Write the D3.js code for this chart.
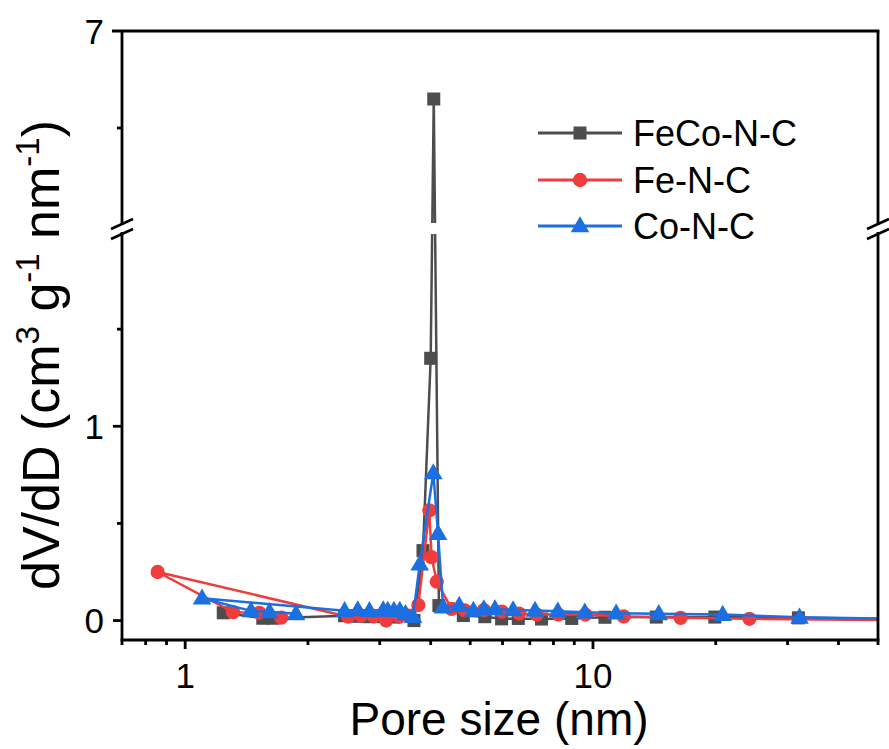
<!DOCTYPE html>
<html>
<head>
<meta charset="utf-8">
<script src="https://cdn.jsdelivr.net/npm/d3@7"></script>
<style>
  html, body { margin: 0; padding: 0; background: #fff; }
  svg { display: block; }
  text { font-family: "Liberation Sans", Arial, sans-serif; fill: #000; }
</style>
</head>
<body>
<svg id="chart" width="889" height="749"></svg>
<script>
// ---- data ----
const seriesNames = ["FeCo-N-C", "Fe-N-C", "Co-N-C"];

const fecoX = [1.24, 1.55, 1.64, 2.46, 2.65, 2.83, 3.06, 3.25, 3.64, 3.83, 4.00, 4.07, 4.19, 4.81, 5.43, 5.97, 6.56, 7.48, 8.87, 10.7, 14.3, 19.9, 31.9, 75];
const fecoY = [0.04, 0.012, 0.012, 0.025, 0.022, 0.02, 0.02, 0.018, 0.0, 0.36, 1.35, 6.30, 0.077, 0.026, 0.02, 0.009, 0.011, 0.008, 0.011, 0.017, 0.018, 0.018, 0.014, 0.004];

const feX = [1.72, 1.52, 1.31, 0.856, 2.51, 2.70, 2.90, 3.11, 3.35, 3.55, 3.73, 3.97, 4.02, 4.14, 4.50, 4.85, 5.40, 5.98, 6.59, 7.28, 8.22, 9.58, 11.9, 16.4, 24.2, 75];
const feY = [0.015, 0.04, 0.043, 0.25, 0.02, 0.025, 0.022, 0.0, 0.02, 0.025, 0.08, 0.567, 0.326, 0.20, 0.06, 0.052, 0.054, 0.046, 0.036, 0.031, 0.031, 0.031, 0.021, 0.014, 0.009, 0.0];

const coX = [1.87, 1.61, 1.45, 1.10, 2.46, 2.65, 2.83, 3.06, 3.14, 3.25, 3.36, 3.47, 3.62, 3.76, 4.06, 4.17, 4.29, 4.70, 5.09, 5.40, 5.75, 6.37, 7.21, 8.20, 9.55, 11.4, 14.5, 20.8, 32.1, 75];
const coY = [0.035, 0.045, 0.05, 0.115, 0.05, 0.055, 0.05, 0.055, 0.052, 0.052, 0.052, 0.035, 0.02, 0.29, 0.76, 0.447, 0.069, 0.077, 0.052, 0.06, 0.06, 0.055, 0.052, 0.048, 0.043, 0.038, 0.035, 0.031, 0.017, 0.004];

const xTickLabels = ["1", "10"];
const xMajorTicks = [1, 10];
const xMinorTicks = [0.7, 0.8, 0.9, 2, 3, 4, 5, 6, 7, 8, 9, 20, 30, 40, 50];
const yLowTicks = [0, 1];
const yLowTickLabels = ["0", "1"];
const yLowMinor = [0.5, 1.5];
const yHighTicks = [7];
const yHighTickLabels = ["7"];
const yHighMinor = [6];

// ---- layout ----
const svg = d3.select("#chart");
const L = 122, R = 878, T = 31, B = 640;
const breakTop = 225, breakBot = 232;

const x = d3.scaleLog().domain([0.7, 50]).range([L, R]);
const yLow = d3.scaleLinear().domain([-0.1, 2]).range([B, breakBot]);
const yHigh = d3.scaleLinear().domain([5, 7]).range([breakTop, T]);
const y = v => (v <= 2 ? yLow(v) : yHigh(v));

const colors = ["#4d4d4d", "#f03c3c", "#1b6fe0"];
const series = [
  { name: seriesNames[0], xs: fecoX, ys: fecoY, color: colors[0], shape: "square" },
  { name: seriesNames[1], xs: feX, ys: feY, color: colors[1], shape: "circle" },
  { name: seriesNames[2], xs: coX, ys: coY, color: colors[2], shape: "triangle" }
];

// clip paths: plot area minus the break band
const defs = svg.append("defs");
const cp = defs.append("clipPath").attr("id", "plotclip");
cp.append("rect").attr("x", L).attr("y", T - 10).attr("width", R - L).attr("height", breakTop - 2 - (T - 10));
cp.append("rect").attr("x", L).attr("y", breakBot + 2).attr("width", R - L).attr("height", B - breakBot - 2);

const symbolFor = shape => {
  if (shape === "square") return d3.symbol().type(d3.symbolSquare).size(170);
  if (shape === "circle") return d3.symbol().type(d3.symbolCircle).size(160);
  return d3.symbol().type(d3.symbolTriangle).size(150);
};

const plot = svg.append("g").attr("clip-path", "url(#plotclip)");
const line = d3.line().x(d => x(d[0])).y(d => y(d[1]));

series.forEach(s => {
  const pts = s.xs.map((v, i) => [v, s.ys[i]]);
  const g = plot.append("g");
  g.append("path").datum(pts).attr("d", line)
    .attr("fill", "none").attr("stroke", s.color).attr("stroke-width", 2.5)
    .attr("stroke-linejoin", "round");
  g.selectAll("path.m").data(pts).enter().append("path").attr("class", "m")
    .attr("d", symbolFor(s.shape))
    .attr("transform", d => `translate(${x(d[0])},${y(d[1]) + (s.shape === "triangle" ? 1 : 0)})`)
    .attr("fill", s.color);
});

// ---- axes frame ----
const ax = svg.append("g").attr("stroke", "#000").attr("stroke-width", 2.8).attr("fill", "none");
ax.append("line").attr("x1", L - 10).attr("x2", R + 1.4).attr("y1", T).attr("y2", T);
ax.append("line").attr("x1", L - 1.4).attr("x2", R + 1.4).attr("y1", B).attr("y2", B);
[L, R].forEach(px => {
  ax.append("line").attr("x1", px).attr("x2", px).attr("y1", T).attr("y2", breakTop);
  ax.append("line").attr("x1", px).attr("x2", px).attr("y1", breakBot).attr("y2", B);
  // break marks
  [breakTop - 1, breakBot + 2].forEach(cy => {
    ax.append("line").attr("x1", px - 11).attr("x2", px + 11)
      .attr("y1", cy + 5).attr("y2", cy - 5).attr("stroke-width", 2.6);
  });
});

// x ticks
xMajorTicks.forEach(t => ax.append("line").attr("x1", x(t)).attr("x2", x(t)).attr("y1", B).attr("y2", B + 9));
xMinorTicks.forEach(t => ax.append("line").attr("x1", x(t)).attr("x2", x(t)).attr("y1", B).attr("y2", B + 5));
// y ticks
yLowTicks.forEach(t => ax.append("line").attr("x1", L - 9).attr("x2", L).attr("y1", yLow(t)).attr("y2", yLow(t)));
yLowMinor.forEach(t => ax.append("line").attr("x1", L - 5).attr("x2", L).attr("y1", yLow(t)).attr("y2", yLow(t)));
yHighMinor.forEach(t => ax.append("line").attr("x1", L - 5).attr("x2", L).attr("y1", yHigh(t)).attr("y2", yHigh(t)));

// tick labels
const tl = svg.append("g").attr("font-size", 35);
xMajorTicks.forEach((t, i) => tl.append("text").attr("x", x(t)).attr("y", 688)
  .attr("text-anchor", "middle").text(xTickLabels[i]));
yLowTicks.forEach((t, i) => tl.append("text").attr("x", 104).attr("y", yLow(t) + 12.5)
  .attr("text-anchor", "end").text(yLowTickLabels[i]));
yHighTicks.forEach((t, i) => tl.append("text").attr("x", 104).attr("y", yHigh(t) + 12.5)
  .attr("text-anchor", "end").text(yHighTickLabels[i]));

// axis titles
svg.append("text").attr("x", 499).attr("y", 735).attr("text-anchor", "middle")
  .attr("font-size", 46).text("Pore size (nm)");

const yt = svg.append("text").attr("transform", `translate(59,355) rotate(-90)`)
  .attr("text-anchor", "middle").attr("font-size", 52);
yt.append("tspan").text("dV/dD (cm");
yt.append("tspan").attr("font-size", 33).attr("dy", -20).text("3");
yt.append("tspan").attr("dy", 20).text(" g");
yt.append("tspan").attr("font-size", 33).attr("dy", -20).text("-1");
yt.append("tspan").attr("dy", 20).text(" nm");
yt.append("tspan").attr("font-size", 33).attr("dy", -20).text("-1");
yt.append("tspan").attr("dy", 20).text(")");

// legend
const legRows = [133, 180, 226];
const lg = svg.append("g");
series.forEach((s, i) => {
  const ly = legRows[i];
  lg.append("line").attr("x1", 538).attr("x2", 622).attr("y1", ly).attr("y2", ly)
    .attr("stroke", s.color).attr("stroke-width", 2.8);
  lg.append("path").attr("d", symbolFor(s.shape))
    .attr("transform", `translate(580,${ly + (s.shape === "triangle" ? 1 : 0)})`).attr("fill", s.color);
  lg.append("text").attr("x", 633).attr("y", ly + 13).attr("font-size", 36).text(s.name);
});
</script>
</body>
</html>
